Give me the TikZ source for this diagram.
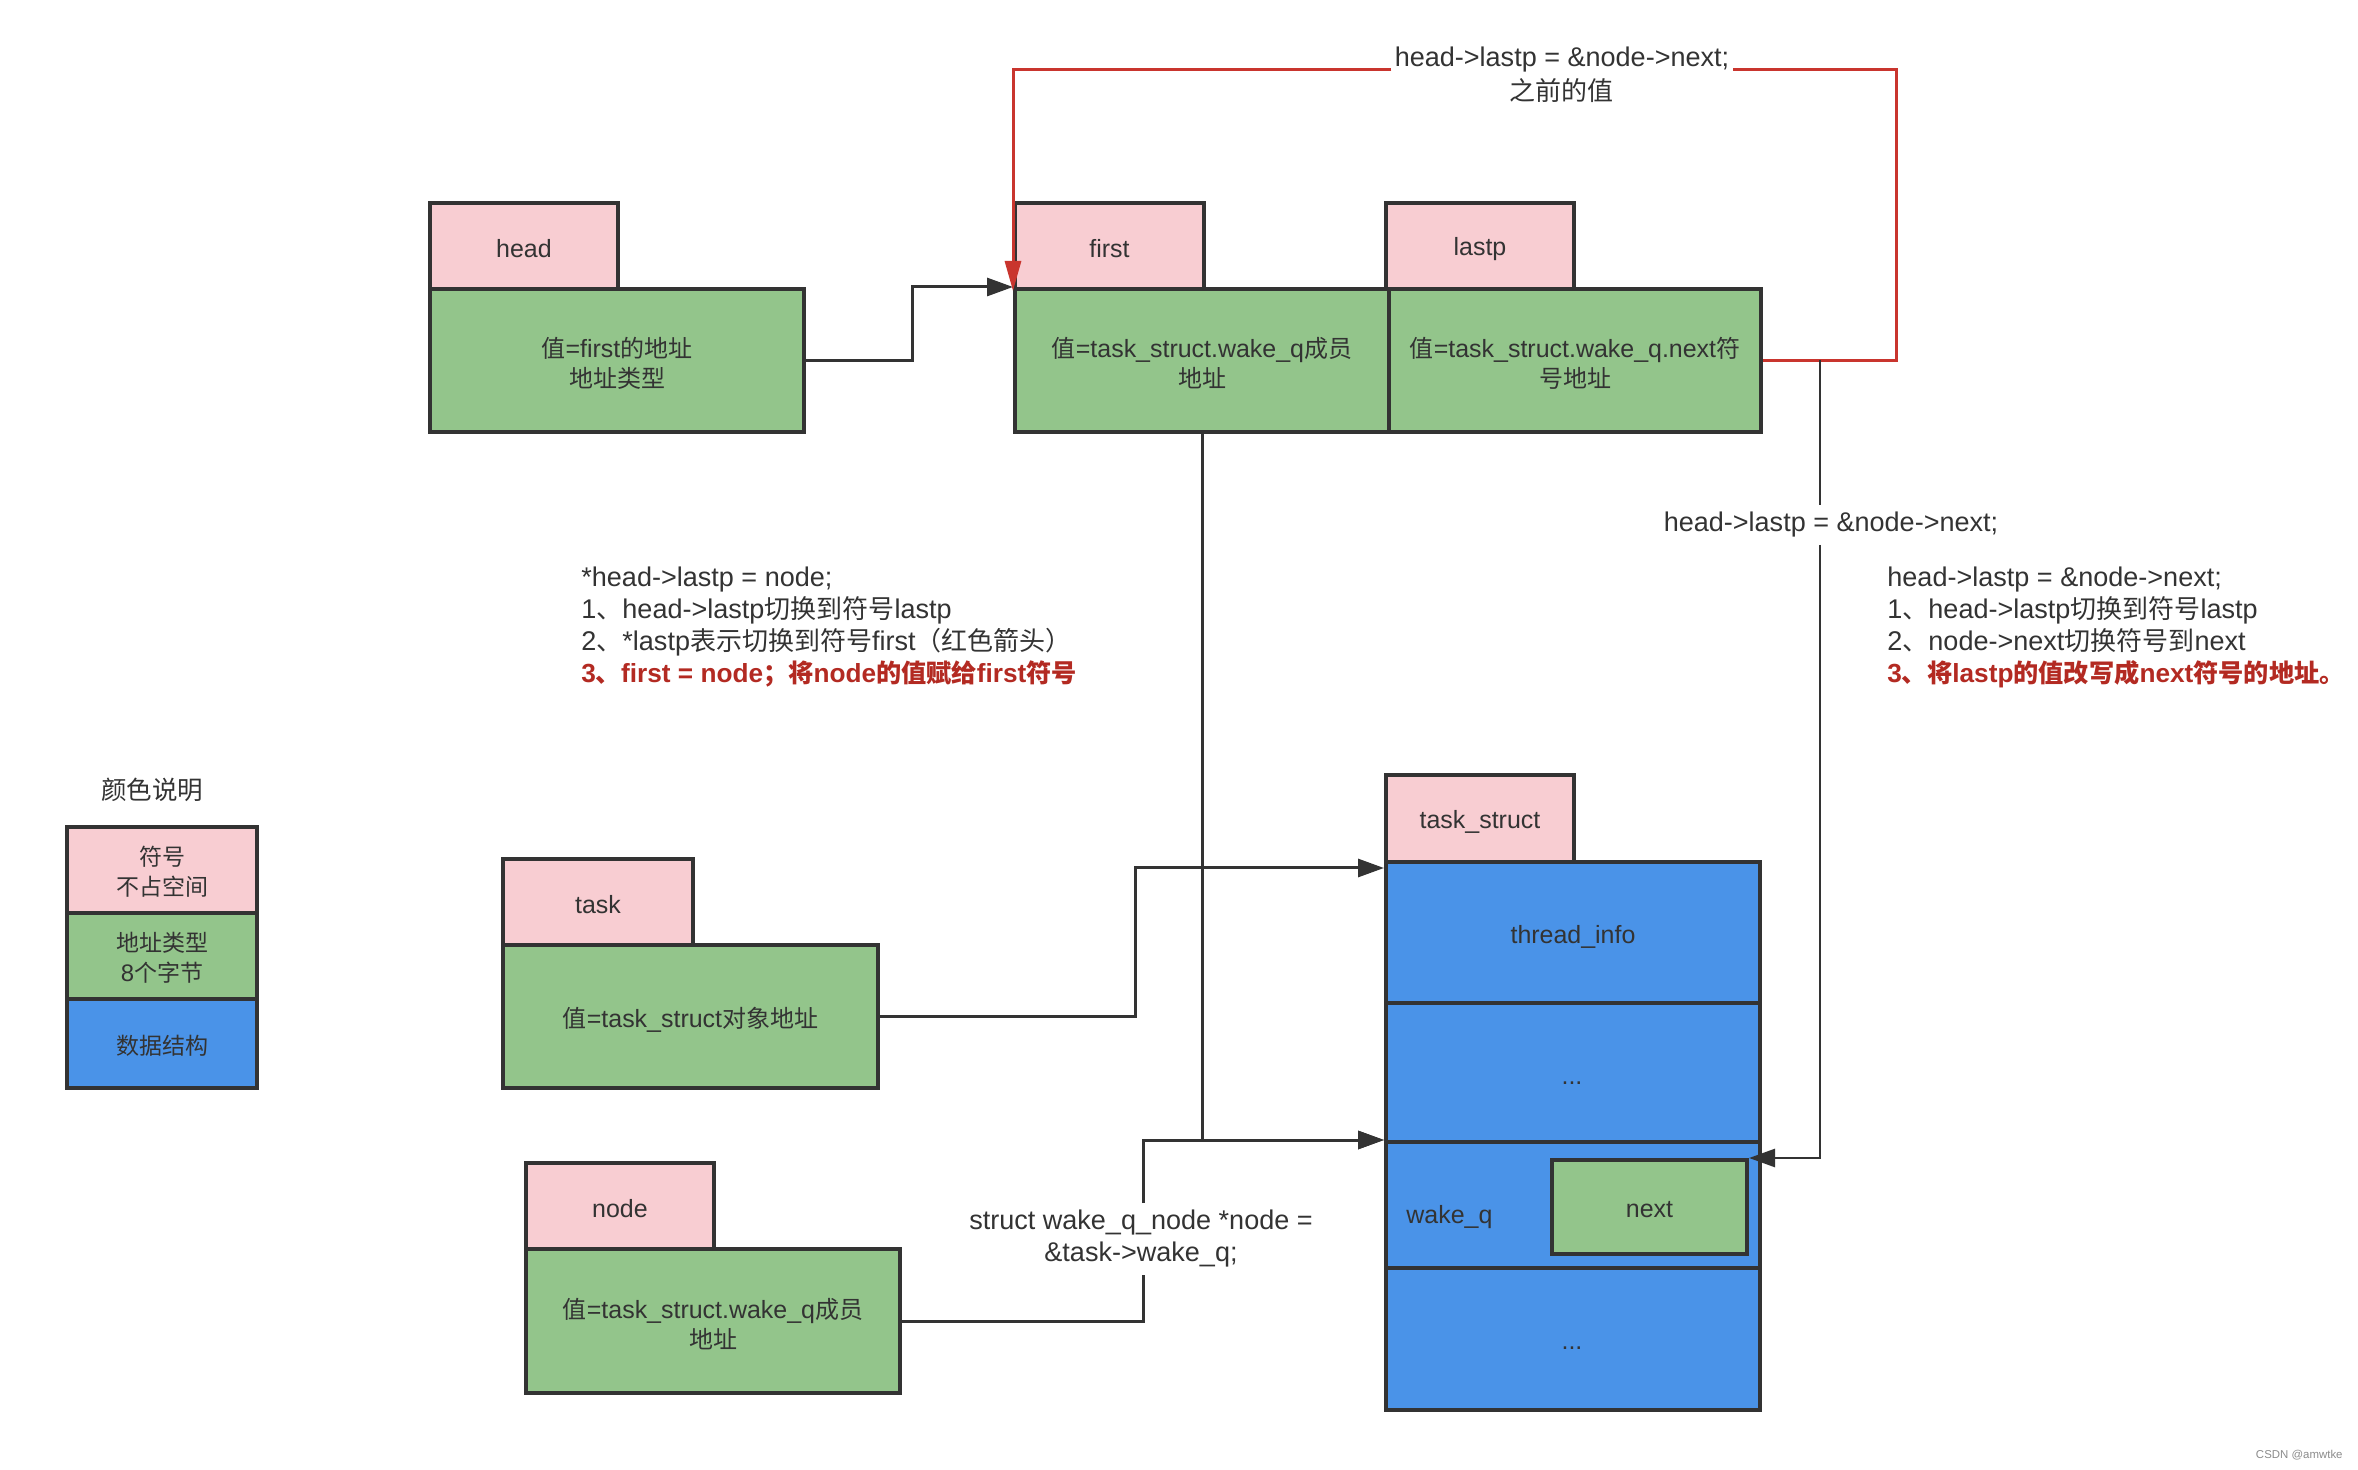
\documentclass[tikz,border=0pt]{standalone}
\usepackage{fontspec}
\setmainfont{Liberation Sans}[Scale=1.04]
\newfontfamily\cjkfont{Noto Sans CJK SC}
\usetikzlibrary{arrows.meta,fit}
\chardef\CJKcls=7
\newcount\cjkc
\cjkc="4E00
\loop \XeTeXcharclass\cjkc=\CJKcls \advance\cjkc by 1 \ifnum\cjkc<"A000 \repeat
\XeTeXcharclass"3001=\CJKcls
\XeTeXcharclass"3002=\CJKcls
\XeTeXcharclass"FF08=\CJKcls
\XeTeXcharclass"FF09=\CJKcls
\XeTeXcharclass"FF0C=\CJKcls
\XeTeXcharclass"FF1B=\CJKcls
\XeTeXinterchartoks 0 \CJKcls={\cjkfont}
\XeTeXinterchartoks 4095 \CJKcls={\cjkfont}
\XeTeXinterchartoks \CJKcls 0={\rmfamily}
\XeTeXinterchartoks \CJKcls 4095={\rmfamily}
\XeTeXinterchartokenstate=1
\definecolor{pinkf}{HTML}{F8CDD2}
\definecolor{greenf}{HTML}{93C58B}
\definecolor{bluef}{HTML}{4A93E8}
\definecolor{bordc}{HTML}{333333}
\definecolor{linec}{HTML}{333333}
\definecolor{txtc}{HTML}{333333}
\definecolor{redl}{HTML}{C9352E}
\definecolor{redt}{HTML}{B32A22}
\newcommand\bxf{\fontsize{12}{15}\selectfont}
\newcommand\lbf{\fontsize{13}{16}\selectfont}
\newcommand\lgf{\fontsize{11.5}{15}\selectfont}
\newcommand\rbf{\fontsize{12.6}{16}\selectfont\bfseries\color{redt}}
\begin{document}
\begin{tikzpicture}[x=0.5pt,y=-0.5pt,
  sym/.style={draw=bordc,line width=2pt,fill=pinkf,inner sep=0pt},
  val/.style={sym,fill=greenf},
  blk/.style={sym,fill=bluef},
  bt/.style={font=\bxf,text=txtc,align=center,inner sep=0pt},
  lt/.style={font=\lgf,text=txtc,align=center,inner sep=0pt},
  txt/.style={font=\bxf,text=txtc,inner sep=0pt},
  conn/.style={draw=linec,line width=1.5pt,-{Triangle[length=13pt,width=9pt]}},
  wire/.style={draw=linec,line width=1.5pt},
  redc/.style={draw=redl,line width=1.5pt},
  redarr/.style={redc,-{Triangle[length=15pt,width=8pt]}},
  lab/.style={font=\lbf,text=txtc,inner xsep=1.5pt,inner ysep=3.5pt,align=center}
]
\fill[white] (0,0) rectangle (2358,1470);
\useasboundingbox (0,0) rectangle (2358,1470);

% top row
\node[sym,fit={(430,203)(618,289)}] (headk) {};
\node[val,fit={(430,289)(804,432)}] (headv) {};
\node[sym,fit={(1015,203)(1204,289)}] (firstk) {};
\node[sym,fit={(1386,203)(1574,289)}] (lastpk) {};
\node[val,fit={(1015,289)(1389,432)}] (firstv) {};
\node[val,fit={(1389,289)(1761,432)}] (lastpv) {};
\node[bt] (headkt) at ([yshift=-1.5pt]headk.center) {head};
\node[bt] (headvt) at ([yshift=-1.5pt]headv.center) {值=first的地址\\地址类型};
\node[bt] (firstkt) at ([yshift=-1.5pt]firstk.center) {first};
\node[bt] (lastpkt) at ([yshift=-1.5pt]lastpk.center) {lastp};
\node[bt] (firstvt) at ([yshift=-1.5pt]firstv.center) {值=task\_struct.wake\_q成员\\地址};
\node[bt] (lastpvt) at ([yshift=-1.5pt]lastpv.center) {值=task\_struct.wake\_q.next符\\号地址};

% task_struct
\node[sym,fit={(1386,775)(1574,862)}] (tsk) {};
\node[blk,fit={(1386,862)(1760,1003)}] (tsinfo) {};
\node[blk,fit={(1386,1003)(1760,1142)}] (tsd1) {};
\node[blk,fit={(1386,1142)(1760,1268)}] (wq) {};
\node[blk,fit={(1386,1268)(1760,1410)}] (tsd2) {};
\node[val,fit={(1552,1160)(1747,1254)}] (nextb) {};
\node[bt] (tskt) at ([yshift=-1.5pt]tsk.center) {task\_struct};
\node[bt] (tsinfot) at ([yshift=-2pt]tsinfo.center) {thread\_info};
\node[bt] (nextt) at ([yshift=-1.5pt]nextb.center) {next};
\node[txt,anchor=west] (wqlab) at (1406,1217) {wake\_q};
\node[txt] (dots1) at (1572,1083) {...};
\node[txt] (dots2) at (1572,1348) {...};

% task and node
\node[sym,fit={(503,859)(693,945)}] (taskk) {};
\node[val,fit={(503,945)(878,1088)}] (taskv) {};
\node[sym,fit={(526,1163)(714,1249)}] (nodek) {};
\node[val,fit={(526,1249)(900,1393)}] (nodev) {};
\node[bt] (taskkt) at ([yshift=-1.5pt]taskk.center) {task};
\node[bt] (taskvt) at ([yshift=-1.5pt]taskv.center) {值=task\_struct对象地址};
\node[bt] (nodekt) at ([yshift=-1.5pt]nodek.center) {node};
\node[bt] (nodevt) at ([yshift=-1.5pt]nodev.center) {值=task\_struct.wake\_q成员\\地址};

% legend
\node[font=\fontsize{12.75}{15}\selectfont,text=txtc] (lgt) at (152,790) {颜色说明};
\node[sym,fit={(67,827)(257,913)}] (lg1) {};
\node[sym,fill=greenf,fit={(67,913)(257,999)}] (lg2) {};
\node[sym,fill=bluef,fit={(67,999)(257,1088)}] (lg3) {};
\node[lt] (lg1t) at ([yshift=-1pt]lg1.center) {符号\\不占空间};
\node[lt] (lg2t) at ([yshift=-1pt]lg2.center) {地址类型\\8个字节};
\node[lt] (lg3t) at ([yshift=-1pt]lg3.center) {数据结构};

% text blocks
\node[font=\lbf,text=txtc,inner sep=0pt,anchor=west,align=left] (tb1) at (581,627)
 {*head->lastp = node;\\1、head->lastp切换到符号lastp\\2、*lastp表示切换到符号first（红色箭头）\\{\rbf 3、first = node；将node的值赋给first符号}};
\node[font=\lbf,text=txtc,inner sep=0pt,anchor=west,align=left] (tb2) at (1887,627)
 {head->lastp = \&node->next;\\1、head->lastp切换到符号lastp\\2、node->next切换符号到next\\{\rbf 3、将lastp的值改写成next符号的地址。}};

% labels on connectors
\node[lab] (redlab1) at (1562,60) {head->lastp = \&node->next;};
\node[lab,inner ysep=0pt] (redlab2) at (1561,91) {之前的值};
\node[lab] (lab3) at (1831,525) {head->lastp = \&node->next;};
\node[lab] (lab4) at (1141,1239) {struct wake\_q\_node *node =\\\&task->wake\_q;};

% connectors
\draw[conn] (headv.east) -- ++(106,0) |- (firstv.north west);
\coordinate (redtop) at (1896,70);
\draw[redc] (lastpv.east) -| (redtop) -- (redtop -| redlab1.east);
\draw[redarr] (redtop -| redlab1.west) -| (firstk.south west);
\coordinate (rj) at (1820,360);
\draw[wire,line width=1.3pt] (rj) -- (rj |- lab3.north);
\draw[conn,line width=1.3pt] (rj |- lab3.south) |- (nextb.north east);
\draw[conn] (firstv.south) |- (wq.north west);
\draw[conn] (taskv.east) -- ++(255,0) |- ([yshift=-4pt]tsinfo.north west);
\coordinate (nj) at (1143,1321);
\draw[wire] (nodev.east) -- (nj) -- (nj |- lab4.south);
\draw[conn] (nj |- lab4.north) |- (wq.north west);

\node[font=\fontsize{5.5}{6}\selectfont,text=black!45,anchor=east,inner sep=0pt] (wm) at (2343,1455) {CSDN @amwtke};
\end{tikzpicture}
\end{document}
